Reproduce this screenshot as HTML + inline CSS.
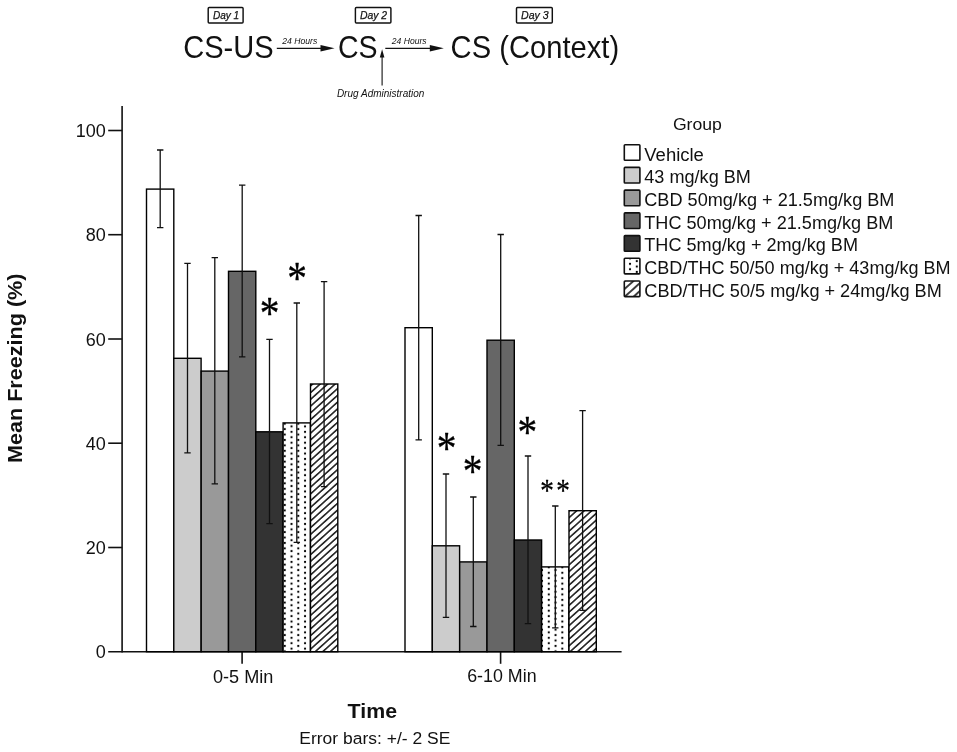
<!DOCTYPE html>
<html lang="en">
<head>
<meta charset="utf-8">
<title>Mean Freezing by Time and Group</title>
<style>
html,body{margin:0;padding:0;background:#fff;}
body{width:957px;height:752px;overflow:hidden;}
svg{display:block;}
text{font-family:"Liberation Sans",sans-serif;fill:#111;}
.it{font-style:italic;}
.b{font-weight:bold;}
.ast{font-family:"Liberation Serif",serif;fill:#000;stroke:#000;stroke-width:0.3;stroke-linejoin:round;}
</style>
</head>
<body>
<svg width="957" height="752" viewBox="0 0 957 752">
<defs>
<pattern id="dots" patternUnits="userSpaceOnUse" x="284.75" y="559.2" width="13.54" height="5.42">
<rect width="13.54" height="5.42" fill="#fff"/>
<circle cx="0" cy="0" r="1.1" fill="#000"/><circle cx="13.54" cy="0" r="1.1" fill="#000"/>
<circle cx="0" cy="5.42" r="1.1" fill="#000"/><circle cx="13.54" cy="5.42" r="1.1" fill="#000"/>
<circle cx="6.77" cy="2.71" r="1.1" fill="#000"/>
</pattern>
<pattern id="hatch" patternUnits="userSpaceOnUse" width="12" height="5.016" patternTransform="translate(310.6 568.1) rotate(-42)">
<rect width="12" height="5.016" fill="#fff"/>
<line x1="-1" y1="0" x2="13" y2="0" stroke="#000" stroke-width="1.4"/>
<line x1="-1" y1="5.016" x2="13" y2="5.016" stroke="#000" stroke-width="1.4"/>
</pattern>
<pattern id="hatchL" patternUnits="userSpaceOnUse" width="12" height="5.87" patternTransform="translate(624.65 288.9) rotate(-42)">
<rect width="12" height="5.87" fill="#fff"/>
<line x1="-1" y1="0" x2="13" y2="0" stroke="#000" stroke-width="1.5"/>
<line x1="-1" y1="5.87" x2="13" y2="5.87" stroke="#000" stroke-width="1.5"/>
</pattern>
</defs>
<rect width="957" height="752" fill="#fff"/>

<g id="timeline">
<rect x="208.2" y="7.4" width="34.9" height="15.5" rx="1" fill="#fff" stroke="#111" stroke-width="1.45"/>
<text class="it" x="212.9" y="18.8" font-size="11.8" stroke="#111" stroke-width="0.25" textLength="26.3" lengthAdjust="spacingAndGlyphs">Day 1</text>
<rect x="355.4" y="7.4" width="35.5" height="15.5" rx="1" fill="#fff" stroke="#111" stroke-width="1.45"/>
<text class="it" x="359.9" y="18.8" font-size="11.8" stroke="#111" stroke-width="0.25" textLength="27.2" lengthAdjust="spacingAndGlyphs">Day 2</text>
<rect x="516.5" y="7.4" width="35.8" height="15.5" rx="1" fill="#fff" stroke="#111" stroke-width="1.45"/>
<text class="it" x="521.1" y="18.8" font-size="11.8" stroke="#111" stroke-width="0.25" textLength="27.6" lengthAdjust="spacingAndGlyphs">Day 3</text>
<text x="183.2" y="58.2" font-size="31.2" textLength="90.5" lengthAdjust="spacingAndGlyphs">CS-US</text>
<text x="337.9" y="58.2" font-size="31.2" textLength="39.6" lengthAdjust="spacingAndGlyphs">CS</text>
<text x="450.6" y="58.2" font-size="31.2" textLength="168.5" lengthAdjust="spacingAndGlyphs">CS (Context)</text>
<line x1="276.8" y1="48.3" x2="324" y2="48.3" stroke="#111" stroke-width="1.3"/>
<polygon points="334.6,48.3 320.5,45 320.5,51.6" fill="#111"/>
<line x1="385.3" y1="48.3" x2="433" y2="48.3" stroke="#111" stroke-width="1.3"/>
<polygon points="443.8,48.3 429.8,45 429.8,51.6" fill="#111"/>
<line x1="382.1" y1="55" x2="382.1" y2="85.6" stroke="#111" stroke-width="1.1"/>
<polygon points="382.1,49.3 379.8,57.6 384.4,57.6" fill="#111"/>
<text class="it" x="282.3" y="44.2" font-size="9" fill="#333" textLength="35" lengthAdjust="spacingAndGlyphs">24 Hours</text>
<text class="it" x="391.8" y="44.2" font-size="9" fill="#333" textLength="34.8" lengthAdjust="spacingAndGlyphs">24 Hours</text>
<text class="it" x="336.9" y="96.5" font-size="10" fill="#222" textLength="87.5" lengthAdjust="spacingAndGlyphs">Drug Administration</text>
</g>
<g id="axes" stroke="#111" stroke-width="1.6" fill="none">
<line x1="122.1" y1="106.1" x2="122.1" y2="652.45"/>
<line x1="108.2" y1="651.7" x2="621.6" y2="651.7"/>
<line x1="108.2" y1="547.5" x2="122.1" y2="547.5"/>
<line x1="108.2" y1="443.2" x2="122.1" y2="443.2"/>
<line x1="108.2" y1="339.0" x2="122.1" y2="339.0"/>
<line x1="108.2" y1="234.7" x2="122.1" y2="234.7"/>
<line x1="108.2" y1="130.5" x2="122.1" y2="130.5"/>
<line x1="242.1" y1="651.7" x2="242.1" y2="663.8"/>
<line x1="500.6" y1="651.7" x2="500.6" y2="663.8"/>
</g>
<g id="ylabels" font-size="18" text-anchor="end">
<text x="105.8" y="658.2">0</text>
<text x="105.8" y="554.0">20</text>
<text x="105.8" y="449.7">40</text>
<text x="105.8" y="345.5">60</text>
<text x="105.8" y="241.2">80</text>
<text x="105.8" y="137.0">100</text>
</g>
<g id="bars">
<rect x="146.5" y="189.1" width="27.3" height="462.6" fill="#ffffff" stroke="#000" stroke-width="1.4"/>
<rect x="173.8" y="358.3" width="27.3" height="293.4" fill="#cccccc" stroke="#000" stroke-width="1.4"/>
<rect x="201.2" y="371.1" width="27.3" height="280.6" fill="#999999" stroke="#000" stroke-width="1.4"/>
<rect x="228.5" y="271.3" width="27.3" height="380.4" fill="#666666" stroke="#000" stroke-width="1.4"/>
<rect x="255.8" y="431.8" width="27.3" height="219.9" fill="#333333" stroke="#000" stroke-width="1.4"/>
<rect x="283.1" y="422.9" width="27.3" height="228.8" fill="url(#dots)" stroke="#000" stroke-width="1.4"/>
<rect x="310.5" y="384.0" width="27.3" height="267.7" fill="url(#hatch)" stroke="#000" stroke-width="1.4"/>
<path d="M160.2 150.0V227.7M157.0 150.0h6.4M157.0 227.7h6.4" stroke="#111" stroke-width="1.3" fill="none"/>
<path d="M187.5 263.4V452.9M184.3 263.4h6.4M184.3 452.9h6.4" stroke="#111" stroke-width="1.3" fill="none"/>
<path d="M214.8 257.7V483.8M211.6 257.7h6.4M211.6 483.8h6.4" stroke="#111" stroke-width="1.3" fill="none"/>
<path d="M242.2 185.1V356.8M239.0 185.1h6.4M239.0 356.8h6.4" stroke="#111" stroke-width="1.3" fill="none"/>
<path d="M269.5 339.3V523.6M266.3 339.3h6.4M266.3 523.6h6.4" stroke="#111" stroke-width="1.3" fill="none"/>
<path d="M296.8 303.0V542.3M293.6 303.0h6.4M293.6 542.3h6.4" stroke="#111" stroke-width="1.3" fill="none"/>
<path d="M324.1 281.7V486.6M320.9 281.7h6.4M320.9 486.6h6.4" stroke="#111" stroke-width="1.3" fill="none"/>
<rect x="405.0" y="327.7" width="27.3" height="324.0" fill="#ffffff" stroke="#000" stroke-width="1.4"/>
<rect x="432.3" y="545.8" width="27.3" height="105.9" fill="#cccccc" stroke="#000" stroke-width="1.4"/>
<rect x="459.7" y="561.9" width="27.3" height="89.8" fill="#999999" stroke="#000" stroke-width="1.4"/>
<rect x="487.0" y="340.2" width="27.3" height="311.5" fill="#666666" stroke="#000" stroke-width="1.4"/>
<rect x="514.3" y="540.0" width="27.3" height="111.7" fill="#333333" stroke="#000" stroke-width="1.4"/>
<rect x="541.6" y="566.9" width="27.3" height="84.8" fill="url(#dots)" stroke="#000" stroke-width="1.4"/>
<rect x="569.0" y="510.7" width="27.3" height="141.0" fill="url(#hatch)" stroke="#000" stroke-width="1.4"/>
<path d="M418.7 215.5V439.8M415.5 215.5h6.4M415.5 439.8h6.4" stroke="#111" stroke-width="1.3" fill="none"/>
<path d="M446.0 474.0V617.4M442.8 474.0h6.4M442.8 617.4h6.4" stroke="#111" stroke-width="1.3" fill="none"/>
<path d="M473.3 497.0V626.5M470.1 497.0h6.4M470.1 626.5h6.4" stroke="#111" stroke-width="1.3" fill="none"/>
<path d="M500.7 234.5V445.3M497.5 234.5h6.4M497.5 445.3h6.4" stroke="#111" stroke-width="1.3" fill="none"/>
<path d="M528.0 456.0V623.6M524.8 456.0h6.4M524.8 623.6h6.4" stroke="#111" stroke-width="1.3" fill="none"/>
<path d="M555.3 506.0V627.8M552.1 506.0h6.4M552.1 627.8h6.4" stroke="#111" stroke-width="1.3" fill="none"/>
<path d="M582.6 410.6V610.3M579.4 410.6h6.4M579.4 610.3h6.4" stroke="#111" stroke-width="1.3" fill="none"/>
</g>
<g id="stars" text-anchor="middle">
<text class="ast" transform="translate(269.6 329.1) scale(1 1.18)" font-size="39.4">*</text>
<text class="ast" transform="translate(297.0 293.5) scale(1 1.18)" font-size="39.4">*</text>
<text class="ast" transform="translate(446.6 464.2) scale(1 1.18)" font-size="39.4">*</text>
<text class="ast" transform="translate(472.7 486.8) scale(1 1.18)" font-size="39.4">*</text>
<text class="ast" transform="translate(527.3 448.2) scale(1 1.18)" font-size="39.4">*</text>
<text class="ast" transform="translate(547.1 500.5) scale(1 1.18)" font-size="27.2">*</text>
<text class="ast" transform="translate(563.1 500.5) scale(1 1.18)" font-size="27.2">*</text>
</g>
<text x="213.0" y="682.6" font-size="17.6" textLength="60.4" lengthAdjust="spacingAndGlyphs">0-5 Min</text>
<text x="467.2" y="682.4" font-size="17.6" textLength="69.4" lengthAdjust="spacingAndGlyphs">6-10 Min</text>
<text class="b" x="347.6" y="718.2" font-size="21" textLength="49.4" lengthAdjust="spacingAndGlyphs">Time</text>
<text x="299.3" y="744.2" font-size="16.8" textLength="151" lengthAdjust="spacingAndGlyphs">Error bars: +/- 2 SE</text>
<text class="b" transform="translate(21.8 463) rotate(-90)" x="0" y="0" font-size="21" textLength="189.5" lengthAdjust="spacingAndGlyphs">Mean Freezing (%)</text>
<g id="legend">
<text x="672.9" y="130" font-size="17.3" textLength="49" lengthAdjust="spacingAndGlyphs">Group</text>
<rect x="624.3" y="144.7" width="15.6" height="15.6" rx="0.8" fill="#ffffff" stroke="#111" stroke-width="1.6"/>
<text x="644.3" y="160.5" font-size="18" textLength="59.6" lengthAdjust="spacingAndGlyphs">Vehicle</text>
<rect x="624.3" y="167.4" width="15.6" height="15.6" rx="0.8" fill="#cccccc" stroke="#111" stroke-width="1.6"/>
<text x="644.3" y="183.2" font-size="18" textLength="106.6" lengthAdjust="spacingAndGlyphs">43 mg/kg BM</text>
<rect x="624.3" y="190.1" width="15.6" height="15.6" rx="0.8" fill="#999999" stroke="#111" stroke-width="1.6"/>
<text x="644.3" y="205.9" font-size="18" textLength="250.1" lengthAdjust="spacingAndGlyphs">CBD 50mg/kg + 21.5mg/kg BM</text>
<rect x="624.3" y="212.9" width="15.6" height="15.6" rx="0.8" fill="#666666" stroke="#111" stroke-width="1.6"/>
<text x="644.3" y="228.7" font-size="18" textLength="249.1" lengthAdjust="spacingAndGlyphs">THC 50mg/kg + 21.5mg/kg BM</text>
<rect x="624.3" y="235.6" width="15.6" height="15.6" rx="0.8" fill="#333333" stroke="#111" stroke-width="1.6"/>
<text x="644.3" y="251.4" font-size="18" textLength="213.7" lengthAdjust="spacingAndGlyphs">THC 5mg/kg + 2mg/kg BM</text>
<rect x="624.3" y="258.3" width="15.6" height="15.6" rx="0.8" fill="url(#dots)" stroke="#111" stroke-width="1.6"/>
<text x="644.3" y="274.1" font-size="18" textLength="306.3" lengthAdjust="spacingAndGlyphs">CBD/THC 50/50 mg/kg + 43mg/kg BM</text>
<rect x="624.3" y="281.0" width="15.6" height="15.6" rx="0.8" fill="url(#hatchL)" stroke="#111" stroke-width="1.6"/>
<text x="644.3" y="296.8" font-size="18" textLength="297.5" lengthAdjust="spacingAndGlyphs">CBD/THC 50/5 mg/kg + 24mg/kg BM</text>
</g>
</svg>
</body>
</html>
